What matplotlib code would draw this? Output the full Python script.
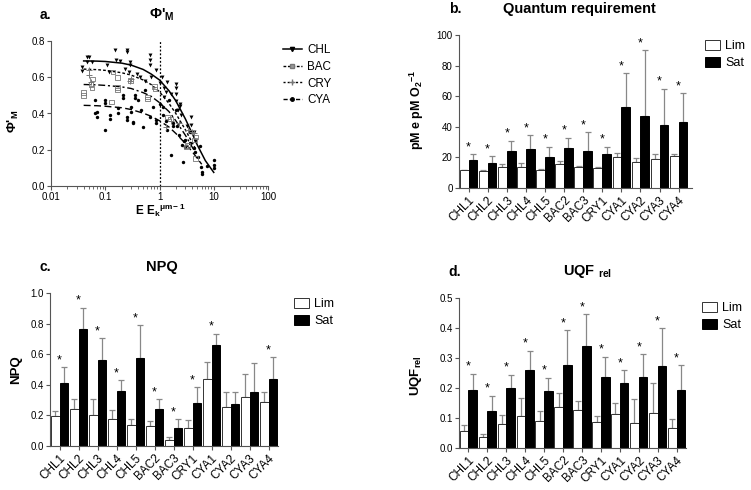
import numpy as np
import matplotlib
matplotlib.use('Agg')
import matplotlib.pyplot as plt
from matplotlib.patches import Patch
from matplotlib.lines import Line2D

plt.rcParams['font.family'] = ['Liberation Sans', 'DejaVu Sans']
plt.rcParams['mathtext.fontset'] = 'custom'
plt.rcParams['mathtext.rm'] = 'Liberation Sans:bold'
plt.rcParams['mathtext.bf'] = 'Liberation Sans:bold'
plt.rcParams['mathtext.it'] = 'Liberation Sans:bold'
plt.rcParams['mathtext.default'] = 'bf'

# ---- panel a data (E/Ek vs PhiM') ----
chl_x = [0.037, 0.037, 0.047, 0.051, 0.047, 0.056, 0.11, 0.115, 0.149, 0.16, 0.19, 0.25, 0.25,
         0.29, 0.29, 0.27, 0.23, 0.445, 0.66, 0.66, 0.66, 0.7, 0.85, 1.04, 1.2, 1.2, 1.35, 1.6,
         1.98, 1.98, 1.98, 1.98, 2.4, 2.4, 2.45, 3.75, 3.75, 4.4, 4.6, 0.38, 0.55, 1.1, 1.3, 2.2, 3.2]
chl_y = [0.657, 0.633, 0.712, 0.712, 0.684, 0.684, 0.666, 0.63, 0.752, 0.693, 0.69, 0.752, 0.74,
         0.684, 0.666, 0.63, 0.645, 0.60, 0.72, 0.697, 0.666, 0.60, 0.64, 0.57, 0.543, 0.49, 0.574, 0.51,
         0.565, 0.543, 0.51, 0.47, 0.455, 0.44, 0.39, 0.38, 0.335, 0.30, 0.25, 0.62, 0.58, 0.60, 0.52, 0.42, 0.33]

bac_x = [0.04, 0.04, 0.055, 0.057, 0.058, 0.13, 0.17, 0.17, 0.17, 0.14, 0.29, 0.6, 0.6, 0.8, 0.82,
         1.4, 1.6, 3.1, 3.3, 4.6, 4.4, 4.7]
bac_y = [0.50, 0.515, 0.56, 0.54, 0.59, 0.464, 0.543, 0.60, 0.53, 0.63, 0.583, 0.48, 0.49, 0.55, 0.535,
         0.38, 0.37, 0.216, 0.225, 0.152, 0.253, 0.27]

cry_x = [0.05, 0.05, 0.055, 0.28, 0.3, 1.3, 1.6, 2.3, 3.4, 4.0, 4.4]
cry_y = [0.64, 0.61, 0.575, 0.58, 0.59, 0.327, 0.36, 0.35, 0.31, 0.30, 0.29]

cya_x = [0.064, 0.064, 0.07, 0.07, 0.1, 0.1, 0.1, 0.12, 0.12, 0.17, 0.17, 0.21, 0.21, 0.25, 0.25,
         0.3, 0.3, 0.32, 0.32, 0.35, 0.35, 0.4, 0.45, 0.5, 0.55, 0.68, 0.75, 0.85, 0.85, 1.0, 1.15,
         1.15, 1.4, 1.5, 1.65, 1.75, 1.75, 2.0, 2.3, 2.6, 2.7, 3.0, 3.0, 3.7, 3.7, 4.4, 4.6, 5.1,
         5.6, 5.8, 6.0, 6.0, 7.5, 10.0, 10.0, 10.0, 1.3, 2.1, 2.8]
cya_y = [0.477, 0.40, 0.382, 0.41, 0.308, 0.473, 0.46, 0.372, 0.39, 0.43, 0.40, 0.50, 0.483, 0.38, 0.363,
         0.437, 0.41, 0.354, 0.345, 0.50, 0.483, 0.473, 0.418, 0.327, 0.528, 0.38, 0.437, 0.363, 0.345, 0.455, 0.437,
         0.39, 0.308, 0.473, 0.17, 0.345, 0.33, 0.418, 0.28, 0.226, 0.134, 0.253, 0.216, 0.30, 0.235, 0.207, 0.19, 0.16,
         0.222, 0.106, 0.079, 0.065, 0.11, 0.143, 0.116, 0.097, 0.36, 0.33, 0.25]

# fitted curves
chl_fit_x = [0.04, 0.07, 0.1, 0.2, 0.3, 0.5, 0.7, 1.0, 1.5, 2.0, 3.0, 4.0, 5.0, 7.0, 10.0]
chl_fit_y = [0.69, 0.689, 0.687, 0.678, 0.667, 0.643, 0.618, 0.585, 0.525, 0.47, 0.37, 0.29, 0.225, 0.14, 0.075]
bac_fit_x = [0.04, 0.07, 0.1, 0.2, 0.3, 0.5, 0.7, 1.0, 1.5, 2.0, 3.0, 4.0, 4.7]
bac_fit_y = [0.56, 0.558, 0.555, 0.547, 0.538, 0.515, 0.495, 0.46, 0.41, 0.36, 0.28, 0.215, 0.18]
cry_fit_x = [0.04, 0.07, 0.1, 0.2, 0.3, 0.5, 0.7, 1.0, 1.5, 2.0, 3.0, 4.0, 4.7]
cry_fit_y = [0.645, 0.642, 0.638, 0.625, 0.612, 0.585, 0.56, 0.52, 0.455, 0.40, 0.31, 0.24, 0.20]
cya_fit_x = [0.04, 0.07, 0.1, 0.2, 0.3, 0.5, 0.7, 1.0, 1.5, 2.0, 3.0, 4.0, 6.0]
cya_fit_y = [0.445, 0.443, 0.44, 0.432, 0.422, 0.402, 0.385, 0.36, 0.325, 0.29, 0.235, 0.19, 0.12]

# ---- bar panels ----
strains = ['CHL1', 'CHL2', 'CHL3', 'CHL4', 'CHL5', 'BAC2', 'BAC3', 'CRY1', 'CYA1', 'CYA2', 'CYA3', 'CYA4']

qr_lim = [11.5, 11, 13.5, 13.5, 12, 15.5, 14, 13, 20.5, 17, 19, 21]
qr_lim_err = [0.5, 0.5, 2, 3, 0.5, 2, 0.5, 0.5, 2.5, 2.5, 3.5, 1.5]
qr_sat = [18, 16.5, 24, 25.5, 20.5, 26, 24.5, 22, 53, 47, 41.5, 43]
qr_sat_err = [4, 4.5, 7, 9, 6.5, 7, 12, 5, 22, 43, 23.5, 19]
qr_sig = [1] * 12

npq_lim = [0.195, 0.245, 0.2, 0.175, 0.135, 0.13, 0.04, 0.12, 0.435, 0.255, 0.32, 0.29]
npq_lim_err = [0.035, 0.06, 0.105, 0.06, 0.04, 0.035, 0.02, 0.05, 0.115, 0.095, 0.15, 0.065]
npq_sat = [0.41, 0.765, 0.56, 0.36, 0.575, 0.24, 0.12, 0.28, 0.66, 0.275, 0.355, 0.44]
npq_sat_err = [0.105, 0.14, 0.145, 0.07, 0.215, 0.065, 0.055, 0.105, 0.075, 0.075, 0.185, 0.14]
npq_sig = [1, 1, 1, 1, 1, 1, 1, 1, 1, 0, 0, 1]

uqf_lim = [0.057, 0.038, 0.08, 0.107, 0.09, 0.137, 0.127, 0.086, 0.115, 0.083, 0.117, 0.067]
uqf_lim_err = [0.021, 0.009, 0.03, 0.061, 0.033, 0.045, 0.031, 0.022, 0.035, 0.082, 0.101, 0.03]
uqf_sat = [0.193, 0.122, 0.2, 0.26, 0.19, 0.278, 0.34, 0.237, 0.218, 0.237, 0.272, 0.193]
uqf_sat_err = [0.055, 0.053, 0.045, 0.065, 0.045, 0.115, 0.107, 0.068, 0.042, 0.075, 0.128, 0.084]
uqf_sig = [1] * 12

W, H = 751, 490
fig = plt.figure(figsize=(W / 100, H / 100), dpi=100)


def ax_px(l, r, b, t):
    return fig.add_axes([l / W, 1 - b / H, (r - l) / W, (b - t) / H])


def style(ax):
    for s in ['top', 'right']:
        ax.spines[s].set_visible(False)
    for s in ['left', 'bottom']:
        ax.spines[s].set_color('#555555')
        ax.spines[s].set_linewidth(0.8)
    ax.tick_params(direction='out', length=3, width=0.8, color='#555555', labelsize=7, pad=1.5)


# panel a
ax = ax_px(51, 268, 186, 41)
style(ax)
ax.set_xscale('log')
ax.set_xlim(0.01, 100)
ax.set_ylim(0, 0.8)
ax.set_yticks([0, 0.2, 0.4, 0.6, 0.8])
ax.set_yticklabels(['0.0', '0.2', '0.4', '0.6', '0.8'])
ax.set_xticks([0.01, 0.1, 1, 10, 100])
ax.set_xticklabels(['0.01', '0.1', '1', '10', '100'])
ax.tick_params(which='minor', length=2, width=0.6, color='#555555')
ax.axvline(1, color='black', lw=0.9, ls=(0, (1.5, 1.5)))
ax.scatter(cya_x, cya_y, marker='o', s=6, color='black', lw=0, zorder=3)
ax.scatter(chl_x, chl_y, marker='v', s=8, color='black', lw=0, zorder=3)
ax.scatter(bac_x, bac_y, marker='s', s=11, facecolor='none', edgecolor='#777777', lw=0.6, zorder=3)
ax.scatter(cry_x, cry_y, marker='+', s=24, color='#777777', lw=0.7, zorder=3)
ax.plot(chl_fit_x, chl_fit_y, color='black', lw=1.1, ls='-')
ax.plot(bac_fit_x, bac_fit_y, color='black', lw=1.0, ls=(0, (5, 2, 1.5, 2)))
ax.plot(cry_fit_x, cry_fit_y, color='black', lw=1.0, ls=(0, (2, 1.5)))
ax.plot(cya_fit_x, cya_fit_y, color='black', lw=1.0, ls=(0, (5, 2.5)))
handles = [
    Line2D([], [], color='black', lw=1.1, ls='-', marker='v', ms=3),
    Line2D([], [], color='black', lw=1.0, ls=(0, (2, 1.2)), marker='s', ms=3, mfc='#999999', mec='#777777'),
    Line2D([], [], color='black', lw=1.0, ls=(0, (1.5, 1.5)), marker='+', ms=4, mec='#777777'),
    Line2D([], [], color='black', lw=1.0, ls=(0, (3, 1.5)), marker='o', ms=2.5),
]
fig.legend(handles, ['CHL', 'BAC', 'CRY', 'CYA'], loc='upper left', bbox_to_anchor=(283 / W, 1 - 44 / H),
           frameon=False, fontsize=8.4, borderpad=0, borderaxespad=0, handlelength=1.6,
           handletextpad=0.5, labelspacing=0.41)

fig.text(45 / W, 1 - 15 / H, 'a.', ha='center', va='center', fontsize=10, fontweight='bold')
fig.text(162 / W, 1 - 15 / H, "Φ'$_{M}$", ha='center', va='center', fontsize=10.5, fontweight='bold')
fig.text(13 / W, 1 - 121 / H, "Φ'$_{M}$", ha='center', va='center', fontsize=9.5, fontweight='bold', rotation=90)
fig.text(160 / W, 1 - 210 / H, 'E E$_{k}$$^{\\mu m-1}$', ha='center', va='center', fontsize=8.5, fontweight='bold')


def bar_panel(box, lim, lim_err, sat, sat_err, sig, ylim, yticks, yfmt, xr):
    ax = ax_px(*box)
    style(ax)
    x = np.arange(len(strains))
    w = 0.46
    ax.bar(x - w / 2, lim, w, color='white', edgecolor='#333333', lw=0.7, zorder=2)
    ax.bar(x + w / 2, sat, w, color='black', edgecolor='black', lw=0.7, zorder=2)
    ax.errorbar(x - w / 2, lim, yerr=[np.zeros(len(lim)), lim_err], fmt='none', ecolor='#888888',
                elinewidth=0.9, capsize=2.2, capthick=0.9, zorder=1)
    ax.errorbar(x + w / 2, sat, yerr=[np.zeros(len(sat)), sat_err], fmt='none', ecolor='#888888',
                elinewidth=0.9, capsize=2.2, capthick=0.9, zorder=1)
    rng = ylim[1] - ylim[0]
    for i in range(len(strains)):
        if sig[i]:
            ax.text(x[i], sat[i] + sat_err[i] + 0.005 * rng, '*', ha='center', va='bottom', fontsize=9)
    ax.set_xlim(*xr)
    ax.set_ylim(*ylim)
    ax.set_yticks(yticks)
    ax.set_yticklabels([yfmt.format(v) for v in yticks])
    ax.set_xticks(x)
    ax.set_xticklabels(strains, rotation=45, ha='right', rotation_mode='anchor', fontsize=8.5)
    return ax


bar_panel((459, 692, 188, 35), qr_lim, qr_lim_err, qr_sat, qr_sat_err, qr_sig,
          (0, 100), [0, 20, 40, 60, 80, 100], '{:.0f}', (-0.5, 11.7))
bar_panel((50, 278, 446, 293), npq_lim, npq_lim_err, npq_sat, npq_sat_err, npq_sig,
          (0, 1.0), [0, 0.2, 0.4, 0.6, 0.8, 1.0], '{:.1f}', (-0.5, 11.5))
bar_panel((459, 686, 448, 298), uqf_lim, uqf_lim_err, uqf_sat, uqf_sat_err, uqf_sig,
          (0, 0.5), [0, 0.1, 0.2, 0.3, 0.4, 0.5], '{:.1f}', (-0.5, 11.5))

bar_handles = [Patch(facecolor='white', edgecolor='#333333', lw=0.7),
               Patch(facecolor='black', edgecolor='black', lw=0.7)]
for (lx, ly) in [(705, 40), (294, 298), (702, 302)]:
    fig.legend(bar_handles, ['Lim', 'Sat'], loc='upper left', bbox_to_anchor=(lx / W, 1 - ly / H),
               frameon=False, fontsize=9, borderpad=0, borderaxespad=0, handlelength=1.2,
               handleheight=0.8, handletextpad=0.4, labelspacing=0.4)

fig.text(455 / W, 1 - 9 / H, 'b.', ha='center', va='center', fontsize=10, fontweight='bold')
fig.text(579 / W, 1 - 9 / H, 'Quantum requirement', ha='center', va='center', fontsize=10.5, fontweight='bold')
fig.text(417 / W, 1 - 110 / H, 'pM e pM O$_{2}$$^{-1}$', ha='center', va='center', fontsize=9,
         fontweight='bold', rotation=90)

fig.text(45 / W, 1 - 267 / H, 'c.', ha='center', va='center', fontsize=10, fontweight='bold')
fig.text(162 / W, 1 - 267 / H, 'NPQ', ha='center', va='center', fontsize=10.5, fontweight='bold')
fig.text(16 / W, 1 - 370 / H, 'NPQ', ha='center', va='center', fontsize=9.5, fontweight='bold', rotation=90)

fig.text(455 / W, 1 - 272 / H, 'd.', ha='center', va='center', fontsize=10, fontweight='bold')
fig.text(587 / W, 1 - 272 / H, 'UQF $_{rel}$', ha='center', va='center', fontsize=10.5, fontweight='bold')
fig.text(416 / W, 1 - 376 / H, 'UQF$_{rel}$', ha='center', va='center', fontsize=9.5, fontweight='bold', rotation=90)

fig.savefig('out.png', dpi=100)
